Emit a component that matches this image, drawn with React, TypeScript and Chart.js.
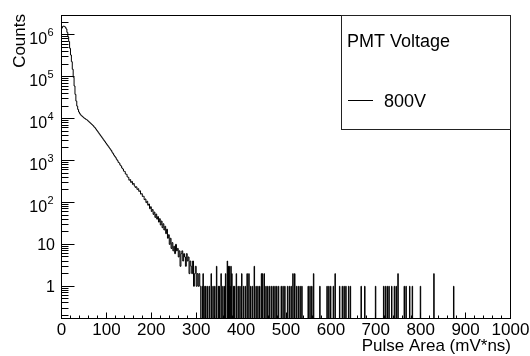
import { useEffect, useRef } from 'react';
import { Chart, registerables } from 'chart.js';

Chart.register(...registerables);

// ---- data ----
const HEAD_BIN_WIDTH = 2; // mV*ns per bin, dense part
const TAIL_BIN_WIDTH = 1; // mV*ns per bin, sparse tail
const TAIL_START = 312;
const X_MIN = 0;
const X_MAX = 1000;
const Y_MIN = 0.17;
const Y_MAX = 2.9e6;

const SERIES_LABEL = '800V';
const LEGEND_HEADER = 'PMT Voltage';
const X_TITLE = 'Pulse Area (mV*ns)';
const Y_TITLE = 'Counts';

// counts of consecutive bins starting at 0 (width 2)
const headCounts = [
  1200000, 1450000, 1580000, 1620000, 1590000, 1510000, 1380000, 1150000, 891000, 692000,
  479000, 331000, 229000, 151000, 97700, 60300, 38000, 26300, 19950, 16600,
  14450, 13180, 12300, 11750, 11220, 10720, 10230, 10000, 9550, 9330,
  8910, 8510, 8130, 7760, 7410, 7080, 6760, 6310, 6030, 5620,
  5250, 4900, 4570, 4270, 3980, 3720, 3470, 3240, 3020, 2820,
  2630, 2450, 2290, 2140, 1995, 1862, 1738, 1585, 1479, 1349,
  1259, 1175, 1072, 1000, 905, 870, 780, 741, 662, 630,
  560, 549, 478, 471, 409, 398, 340, 352, 301, 318,
  270, 284, 247, 229, 236, 205, 213, 184, 190, 158,
  162, 139, 141, 117, 121, 99, 107, 86, 92, 71,
  79, 61, 68, 52, 59, 44, 53, 40, 46, 34,
  41, 29, 36, 25, 31, 22, 27, 18, 23, 14,
  17, 10, 14, 8, 11, 7, 9, 6, 10, 7,
  8, 5, 7, 3, 6, 7, 4, 6, 5, 3,
  6, 4, 5, 2, 4, 3, 2, 4, 1, 2,
  3, 1, 2, 1, 2, 1,
];

// sparse tail: positions (mV*ns) of the non-empty 1-wide bins and their counts
const tailBinStarts = [
  314, 316, 320, 322, 326, 330, 334, 338, 342, 346, 350, 352, 356, 360, 364, 366,
  370, 372, 374, 376, 378, 380, 384, 386, 390, 394, 398, 402, 406, 410, 414, 418,
  422, 426, 430, 434, 438, 442, 446, 448, 452, 456, 460, 464, 468, 472, 476, 480,
  484, 490, 494, 498, 504, 508, 512, 516, 520, 524, 528, 532, 536, 550, 554, 558,
  562, 576, 592, 596, 600, 606, 610, 620, 626, 630, 634, 640, 644, 668, 676, 700,
  718, 722, 726, 730, 736, 742, 746, 750, 764, 768, 776, 782, 800, 830, 874,
];
const tailCounts = [
  1, 2, 1, 1, 1, 1, 2, 1, 1, 3, 1, 1, 2, 1, 1, 2,
  4, 3, 3, 1, 3, 2, 1, 1, 2, 1, 1, 2, 1, 1, 2, 2,
  1, 1, 3, 1, 1, 1, 2, 2, 2, 1, 1, 1, 1, 1, 1, 1,
  1, 1, 1, 1, 1, 1, 1, 2, 2, 1, 1, 1, 1, 1, 1, 1,
  2, 1, 1, 1, 1, 1, 2, 1, 1, 1, 1, 1, 1, 1, 1, 1,
  1, 1, 1, 1, 1, 1, 1, 2, 1, 1, 1, 1, 1, 2, 1,
];

const xTickValues = [0, 100, 200, 300, 400, 500, 600, 700, 800, 900, 1000];
const xTickLabels = ['0', '100', '200', '300', '400', '500', '600', '700', '800', '900', '1000'];
const yTickValues = [1, 10, 100, 1000, 10000, 100000, 1000000];
const yTickBases = ['1', '10', '10', '10', '10', '10', '10'];
const yTickExponents = ['', '', '2', '3', '4', '5', '6'];

const FONT = '"Liberation Sans", Arial, Helvetica, sans-serif';

function buildPoints() {
  const pts: { x: number; y: number }[] = [];
  const yv = (c: number) => (c > 0 ? c : Y_MIN);
  headCounts.forEach((c, i) => {
    pts.push({ x: X_MIN + i * HEAD_BIN_WIDTH, y: yv(c) });
  });
  const nTail = Math.round((X_MAX - TAIL_START) / TAIL_BIN_WIDTH);
  const tail: number[] = new Array(nTail).fill(0);
  tailBinStarts.forEach((u, k) => {
    tail[Math.round((u - TAIL_START) / TAIL_BIN_WIDTH)] = tailCounts[k];
  });
  tail.forEach((c, i) => {
    pts.push({ x: TAIL_START + i * TAIL_BIN_WIDTH, y: yv(c) });
  });
  pts.push({ x: X_MAX, y: pts[pts.length - 1].y });
  return pts;
}

const rootStyle = {
  id: 'rootStyle',
  afterDatasetsDraw(chart: any) {
    const { ctx, chartArea: a, scales } = chart;
    const xs = scales.x;
    const ys = scales.y;
    ctx.save();
    ctx.strokeStyle = '#000';
    ctx.fillStyle = '#000';
    ctx.lineWidth = 1;

    // frame
    ctx.strokeRect(a.left, a.top, a.right - a.left, a.bottom - a.top);

    // x ticks (inside)
    ctx.beginPath();
    for (let v = X_MIN; v <= X_MAX; v += 20) {
      const px = Math.round(xs.getPixelForValue(v) - 0.5) + 0.5;
      const len = v % 100 === 0 ? 6 : 3;
      ctx.moveTo(px, a.bottom);
      ctx.lineTo(px, a.bottom - len);
    }
    // y ticks (inside)
    for (let k = -1; k <= 6; k++) {
      for (let m = 1; m <= 9; m++) {
        const v = m * Math.pow(10, k);
        if (v < Y_MIN || v > Y_MAX) continue;
        const py = Math.round(ys.getPixelForValue(v) - 0.5) + 0.5;
        const len = m === 1 ? 13 : 7;
        ctx.moveTo(a.left, py);
        ctx.lineTo(a.left + len, py);
      }
    }
    ctx.stroke();

    // x tick labels
    ctx.font = `17px ${FONT}`;
    ctx.textAlign = 'center';
    ctx.textBaseline = 'alphabetic';
    xTickValues.forEach((v, i) => {
      ctx.fillText(xTickLabels[i], xs.getPixelForValue(v), a.bottom + 16.5);
    });

    // y tick labels
    yTickValues.forEach((v, i) => {
      const py = ys.getPixelForValue(v);
      const exp = yTickExponents[i];
      ctx.textAlign = 'right';
      if (!exp) {
        ctx.font = `16px ${FONT}`;
        ctx.fillText(yTickBases[i], 55, py + 5.8);
      } else {
        ctx.font = `11px ${FONT}`;
        const ew = ctx.measureText(exp).width;
        ctx.fillText(exp, 53.5, py + 1.5);
        ctx.font = `16px ${FONT}`;
        ctx.fillText(yTickBases[i], 53.5 - ew - 0.3, py + 9.5);
      }
    });

    // axis titles
    ctx.font = `17px ${FONT}`;
    ctx.textAlign = 'right';
    ctx.fillText(X_TITLE, a.right + 0.5, 351);
    ctx.save();
    ctx.translate(25, 14);
    ctx.rotate(-Math.PI / 2);
    ctx.textAlign = 'right';
    ctx.fillText(Y_TITLE, 0, 0);
    ctx.restore();

    // legend
    const lx0 = 341.5;
    const ly0 = a.top;
    const lx1 = a.right;
    const ly1 = 129.5;
    ctx.fillStyle = '#fff';
    ctx.fillRect(lx0, ly0, lx1 - lx0, ly1 - ly0);
    ctx.strokeStyle = '#222';
    ctx.strokeRect(lx0, ly0, lx1 - lx0, ly1 - ly0);
    ctx.fillStyle = '#000';
    ctx.font = `18px ${FONT}`;
    ctx.textAlign = 'left';
    ctx.fillText(LEGEND_HEADER, 347, 47);
    ctx.beginPath();
    ctx.strokeStyle = '#000';
    ctx.moveTo(348, 100.5);
    ctx.lineTo(373, 100.5);
    ctx.stroke();
    ctx.fillText(chart.data.datasets[0].label, 384, 107);

    ctx.restore();
  },
};

export default function App() {
  const canvasRef = useRef<HTMLCanvasElement | null>(null);

  useEffect(() => {
    if (!canvasRef.current) return;
    const chart = new Chart(canvasRef.current, {
      type: 'line',
      data: {
        datasets: [
          {
            label: SERIES_LABEL,
            data: buildPoints(),
            borderColor: '#000',
            borderWidth: 1,
            stepped: 'after',
            pointRadius: 0,
            fill: false,
          },
        ],
      },
      options: {
        animation: false,
        responsive: true,
        maintainAspectRatio: false,
        events: [],
        layout: { padding: { left: 61.5, right: 19.5, top: 15.5, bottom: 37.5 } },
        plugins: { legend: { display: false }, tooltip: { enabled: false } },
        scales: {
          x: { type: 'linear', min: X_MIN, max: X_MAX, display: false },
          y: { type: 'logarithmic', min: Y_MIN, max: Y_MAX, display: false },
        },
      },
      plugins: [rootStyle],
    } as any);
    return () => chart.destroy();
  }, []);

  return (
    <div style={{ position: 'fixed', left: 0, top: 0, width: 530, height: 356, background: '#fff' }}>
      <canvas ref={canvasRef} />
    </div>
  );
}
